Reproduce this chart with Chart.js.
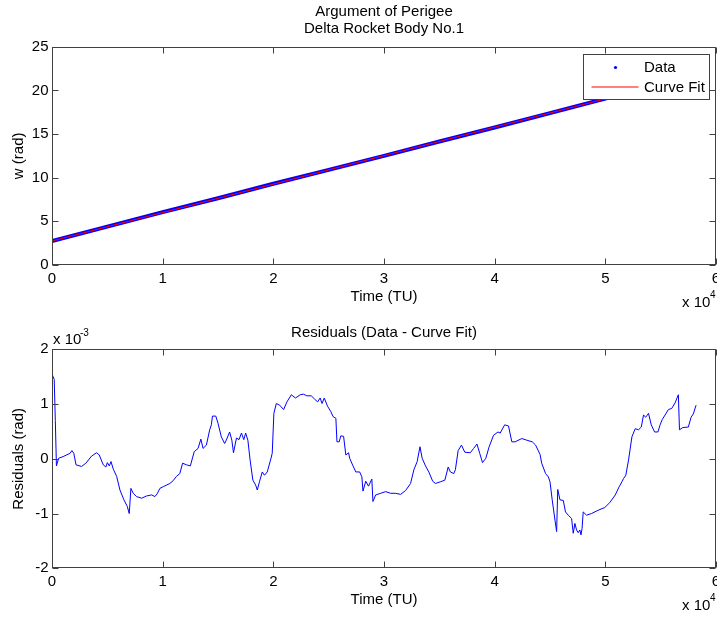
<!DOCTYPE html>
<html>
<head>
<meta charset="utf-8">
<title>Argument of Perigee</title>
<script src="https://cdn.jsdelivr.net/npm/chart.js@4.4.0/dist/chart.umd.min.js"></script>
<style>
  body { margin: 0; background: #fff; width: 717px; height: 617px; overflow: hidden; }
  canvas { display: block; }
</style>
</head>
<body>
<canvas id="wChart" width="717" height="310"></canvas>
<canvas id="resChart" width="717" height="307"></canvas>
<script>
// time is in units of 1e4 TU, residuals in units of 1e-3 rad (as on the axes)
var xTicks = [0, 1, 2, 3, 4, 5, 6];
var wTicks = [0, 5, 10, 15, 20, 25];
var resTicks = [-2, -1, 0, 1, 2];

// measured argument of perigee
var dataTime = [0, 0.5, 1, 1.5, 2, 2.5, 3, 3.5, 4, 4.5, 5, 5.5, 5.85];
var dataW = [2.75, 4.4, 6.05, 7.65, 9.3, 10.9, 12.5, 14.15, 15.75, 17.4, 19.05, 20.65, 21.8];

// fitted line
var fitTime = [0, 5.85];
var fitW = [2.75, 21.8];

// residuals (data - fit)
var resTime = [0.000, 0.010, 0.020, 0.030, 0.040, 0.060, 0.100, 0.163, 0.180, 0.197, 0.217, 0.267, 0.306, 0.358, 0.402, 0.427, 0.463, 0.487, 0.500, 0.518,
  0.533, 0.554, 0.584, 0.614, 0.650, 0.680, 0.698, 0.713, 0.734, 0.764, 0.810, 0.853, 0.900, 0.930, 0.950, 0.975, 1.005, 1.065, 1.095, 1.125,
  1.155, 1.180, 1.215, 1.250, 1.285, 1.320, 1.345, 1.365, 1.395, 1.425, 1.440, 1.450, 1.480, 1.500, 1.530, 1.560, 1.575, 1.605, 1.625, 1.640,
  1.667, 1.690, 1.712, 1.733, 1.750, 1.770, 1.790, 1.815, 1.840, 1.855, 1.876, 1.900, 1.920, 1.945, 1.975, 1.990, 2.005, 2.027, 2.057, 2.093,
  2.123, 2.163, 2.200, 2.243, 2.273, 2.303, 2.343, 2.373, 2.400, 2.423, 2.440, 2.460, 2.490, 2.520, 2.540, 2.565, 2.575, 2.595, 2.610, 2.635,
  2.655, 2.680, 2.690, 2.720, 2.745, 2.780, 2.800, 2.810, 2.835, 2.860, 2.890, 2.900, 2.925, 2.970, 3.015, 3.060, 3.105, 3.150, 3.195, 3.240,
  3.270, 3.300, 3.325, 3.345, 3.375, 3.405, 3.440, 3.465, 3.510, 3.550, 3.580, 3.600, 3.630, 3.645, 3.670, 3.700, 3.730, 3.780, 3.810, 3.840,
  3.865, 3.890, 3.920, 3.950, 3.990, 4.030, 4.050, 4.090, 4.125, 4.155, 4.185, 4.245, 4.290, 4.340, 4.370, 4.410, 4.425, 4.460, 4.485, 4.500,
  4.520, 4.545, 4.560, 4.570, 4.590, 4.620, 4.640, 4.665, 4.695, 4.710, 4.725, 4.740, 4.755, 4.770, 4.780, 4.790, 4.800, 4.830, 4.875, 4.935,
  4.995, 5.040, 5.090, 5.125, 5.150, 5.165, 5.185, 5.210, 5.240, 5.270, 5.300, 5.325, 5.345, 5.365, 5.390, 5.415, 5.445, 5.475, 5.495, 5.515,
  5.540, 5.570, 5.600, 5.630, 5.660, 5.670, 5.700, 5.750, 5.775, 5.795, 5.820];
var resVal = [1.55, 1.50, 1.45, 0.70, -0.13, 0.01, 0.04, 0.10, 0.15, 0.10, -0.11, -0.14, -0.08, 0.05, 0.11, 0.07, -0.11, -0.15, -0.07, -0.13,
  -0.05, -0.19, -0.32, -0.57, -0.75, -0.87, -1.00, -0.54, -0.63, -0.69, -0.72, -0.68, -0.66, -0.69, -0.64, -0.54, -0.51, -0.45, -0.40, -0.32,
  -0.27, -0.08, -0.11, -0.13, 0.13, 0.19, 0.36, 0.19, 0.25, 0.53, 0.62, 0.78, 0.78, 0.65, 0.40, 0.28, 0.34, 0.49, 0.34, 0.11,
  0.38, 0.35, 0.47, 0.35, 0.47, 0.34, -0.02, -0.39, -0.48, -0.57, -0.41, -0.24, -0.30, -0.24, -0.02, 0.10, 0.83, 1.01, 0.98, 0.90,
  1.04, 1.17, 1.11, 1.17, 1.18, 1.15, 1.15, 1.09, 1.04, 1.11, 1.01, 1.11, 0.96, 0.86, 0.77, 0.74, 0.31, 0.31, 0.42, 0.41,
  0.07, 0.11, 0.01, -0.13, -0.24, -0.24, -0.33, -0.59, -0.41, -0.50, -0.37, -0.78, -0.66, -0.63, -0.60, -0.63, -0.63, -0.65, -0.58, -0.45,
  -0.20, -0.05, 0.22, 0.01, -0.13, -0.24, -0.41, -0.45, -0.42, -0.39, -0.15, -0.24, -0.27, -0.20, 0.15, 0.25, 0.12, 0.11, 0.19, 0.27,
  0.10, -0.07, 0.01, 0.22, 0.43, 0.49, 0.47, 0.62, 0.60, 0.31, 0.31, 0.37, 0.34, 0.31, 0.25, 0.08, -0.08, -0.27, -0.33, -0.42,
  -0.75, -1.12, -1.33, -0.56, -0.75, -0.76, -0.97, -1.03, -1.09, -1.36, -1.18, -1.30, -1.35, -1.30, -1.39, -1.27, -0.97, -1.03, -1.00, -0.94,
  -0.89, -0.80, -0.66, -0.51, -0.42, -0.36, -0.30, -0.02, 0.40, 0.55, 0.53, 0.58, 0.80, 0.76, 0.83, 0.62, 0.49, 0.49, 0.62, 0.72,
  0.80, 0.90, 0.92, 1.02, 1.17, 0.53, 0.57, 0.58, 0.76, 0.82, 0.98];

function pts(xs, ys) {
  return xs.map(function (v, i) { return { x: v, y: ys[i] }; });
}

Chart.defaults.font.family = "'Liberation Sans', Arial, sans-serif";
Chart.defaults.font.size = 15;
Chart.defaults.font.lineHeight = 1.16;
Chart.defaults.color = '#000';

var FONT = "'Liberation Sans', Arial, sans-serif";

// matlab style box: frame, inward ticks on all four sides, exponent labels, boxed legend
var matlabAxes = {
  id: 'matlabAxes',
  afterDatasetsDraw: function (chart, args, opts) {
    var ctx = chart.ctx, a = chart.chartArea, xs = chart.scales.x, ys = chart.scales.y;
    var L = Math.round(a.left) + 0.5, R = Math.round(a.right) - 0.5;
    var T = Math.round(a.top) + 0.5, B = Math.round(a.bottom) - 0.5;
    ctx.save();
    ctx.strokeStyle = '#404040';
    ctx.lineWidth = 1;
    ctx.strokeRect(L, T, R - L, B - T);
    ctx.beginPath();
    xs.ticks.forEach(function (t) {
      var p = Math.round(xs.getPixelForValue(t.value)) + 0.5;
      ctx.moveTo(p, B); ctx.lineTo(p, B - 6);
      ctx.moveTo(p, T); ctx.lineTo(p, T + 6);
    });
    ys.ticks.forEach(function (t) {
      var p = Math.round(ys.getPixelForValue(t.value)) + 0.5;
      ctx.moveTo(L, p); ctx.lineTo(L + 6, p);
      ctx.moveTo(R, p); ctx.lineTo(R - 6, p);
    });
    ctx.stroke();

    // "x 10^n" multipliers
    ctx.fillStyle = '#000';
    ctx.textAlign = 'left';
    ctx.textBaseline = 'middle';
    ctx.font = '15px ' + FONT;
    ctx.fillText('x 10', a.right - 34, a.bottom + 38);
    ctx.font = '10px ' + FONT;
    ctx.fillText(opts.xExp, a.right - 6, a.bottom + 30);
    if (opts.yExp) {
      ctx.font = '15px ' + FONT;
      ctx.fillText('x 10', a.left + 1, a.top - 9.5);
      ctx.font = '10px ' + FONT;
      ctx.fillText(opts.yExp, a.left + 28, a.top - 16.5);
    }

    if (opts.legend) {
      var ds = chart.data.datasets;
      var bx = Math.round(a.right - 133) + 0.5, by = Math.round(a.top + 7) + 0.5;
      ctx.fillStyle = '#fff';
      ctx.fillRect(bx, by, 126, 45);
      ctx.strokeStyle = '#404040';
      ctx.strokeRect(bx, by, 126, 45);
      ctx.fillStyle = ds[0].borderColor;
      ctx.beginPath();
      ctx.arc(bx + 32, by + 13, 1.6, 0, Math.PI * 2);
      ctx.fill();
      ctx.strokeStyle = ds[1].borderColor;
      ctx.beginPath();
      ctx.moveTo(bx + 8, by + 32.5);
      ctx.lineTo(bx + 55, by + 32.5);
      ctx.stroke();
      ctx.fillStyle = '#000';
      ctx.font = '15px ' + FONT;
      ctx.fillText(ds[0].label, bx + 60.5, by + 13.5);
      ctx.fillText(ds[1].label, bx + 60.5, by + 33);
    }
    ctx.restore();
  }
};

function xScale(h, titlePad) {
  return {
    type: 'linear', min: 0, max: 6,
    afterBuildTicks: function (s) { s.ticks = xTicks.map(function (v) { return { value: v }; }); },
    afterFit: function (s) { s.height = h; s.paddingLeft = 0; s.paddingRight = 0; },
    grid: { display: false, drawTicks: false },
    border: { display: false },
    ticks: { padding: 5, maxRotation: 0, autoSkip: false },
    title: { display: true, text: 'Time (TU)', padding: { top: 0, bottom: titlePad } }
  };
}

function yScale(min, max, tickVals, label) {
  return {
    type: 'linear', min: min, max: max,
    afterBuildTicks: function (s) { s.ticks = tickVals.map(function (v) { return { value: v }; }); },
    afterFit: function (s) { s.width = 52; },
    grid: { display: false, drawTicks: false },
    border: { display: false },
    ticks: { padding: 3.5, autoSkip: false },
    title: { display: true, text: label, padding: { top: 10, bottom: 0 } }
  };
}

var common = {
  responsive: false,
  animation: false,
  events: [],
  layout: { padding: { left: 0, right: 1, top: 0, bottom: 0 } }
};

new Chart(document.getElementById('wChart'), {
  type: 'line',
  data: {
    datasets: [{
      label: 'Data',
      data: pts(dataTime, dataW),
      borderColor: 'rgb(0,0,255)',
      borderWidth: 4,
      pointRadius: 0,
      order: 2
    }, {
      label: 'Curve Fit',
      data: pts(fitTime, fitW),
      borderColor: 'rgb(255,0,0)',
      borderWidth: 1,
      pointRadius: 0,
      order: 1
    }]
  },
  options: Object.assign({}, common, {
    scales: {
      x: xScale(45, 4.8),
      y: yScale(0, 25, wTicks, 'w (rad)')
    },
    plugins: {
      legend: { display: false },
      tooltip: { enabled: false },
      title: {
        display: true,
        fullSize: false,
        text: ['Argument of Perigee', 'Delta Rocket Body No.1'],
        font: { size: 15, weight: 'normal' },
        padding: { top: 2.8, bottom: 9.1 }
      },
      matlabAxes: { xExp: '4', legend: true }
    }
  }),
  plugins: [matlabAxes]
});

new Chart(document.getElementById('resChart'), {
  type: 'line',
  data: {
    datasets: [{
      label: 'Residuals',
      data: pts(resTime, resVal),
      borderColor: 'rgb(0,0,255)',
      borderWidth: 1,
      pointRadius: 0
    }]
  },
  options: Object.assign({}, common, {
    scales: {
      x: xScale(48.7, 8.3),
      y: yScale(-2, 2, resTicks, 'Residuals (rad)')
    },
    plugins: {
      legend: { display: false },
      tooltip: { enabled: false },
      title: {
        display: true,
        fullSize: false,
        text: 'Residuals (Data - Curve Fit)',
        font: { size: 15, weight: 'normal' },
        padding: { top: 14.3, bottom: 7.6 }
      },
      matlabAxes: { xExp: '4', yExp: '-3', legend: false }
    }
  }),
  plugins: [matlabAxes]
});
</script>
</body>
</html>
